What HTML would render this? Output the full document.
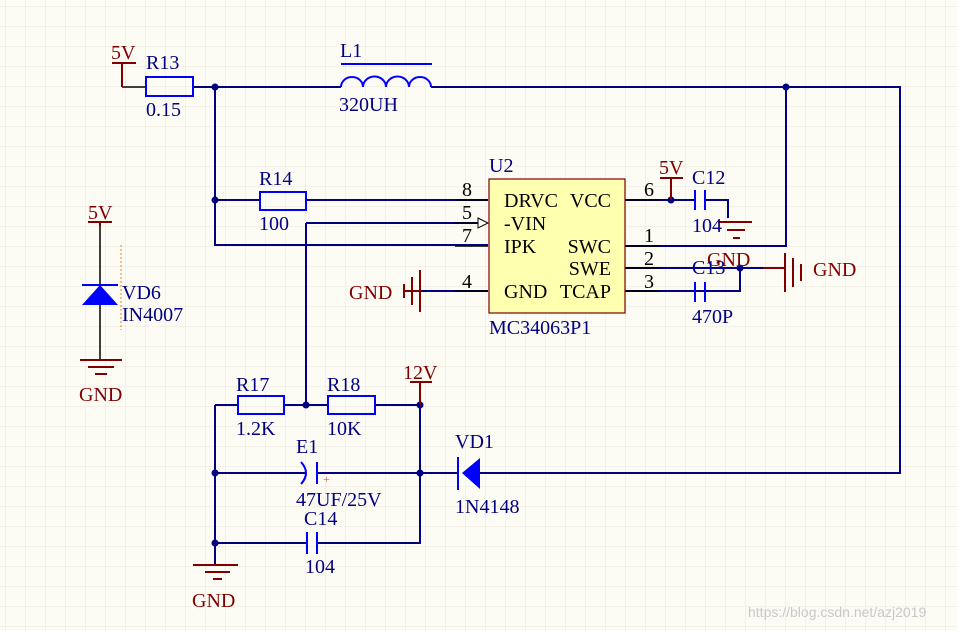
<!DOCTYPE html>
<html><head><meta charset="utf-8"><style>
html,body{margin:0;padding:0;background:#fcfbf4}
svg{display:block}
text{font-family:"Liberation Serif",serif;font-size:20px}
.n{fill:#000080}.r{fill:#800000}.k{fill:#000}
</style></head><body>
<svg width="957" height="631" viewBox="0 0 957 631" xmlns="http://www.w3.org/2000/svg">
<defs><pattern id="g" width="20" height="20" patternUnits="userSpaceOnUse" x="6" y="7"><path d="M20 0V20M0 20H20" stroke="#ebe8dc" stroke-width="1" fill="none"/></pattern></defs>
<rect width="957" height="631" fill="#fcfbf4"/>
<rect width="957" height="631" fill="url(#g)"/>
<g fill="none" stroke="#000080" stroke-width="2">
<path d="M193 87H341M431 87H900V473H490"/>
<path d="M215 87V245H488M215 200H260M306 200H488M306 223H478M306 223V405"/>
<path d="M625 246H786V87"/>
<path d="M625 268H763M740 268V291H625M705 291H740"/>
<path d="M625 200H695M705 200H728V218"/>
<path d="M215 405H238M284 405H328M375 405H420V543H317M307 543H215V565M215 405V543"/>
<path d="M215 473H305M317 473H458M480 473H490"/>
<path d="M420 291H488"/>
</g>
<g stroke="#000" stroke-width="1.5">
<path d="M122 87H146M455 200H488M455 223H478M455 246H488M455 291H488M625 200H660M625 246H660M625 268H660M625 291H660"/>
<path d="M100 222V285M100 305V360"/>
</g>
<g fill="#000080"><circle cx="215" cy="87" r="3.5"/><circle cx="215" cy="200" r="3.5"/><circle cx="786" cy="87" r="3.5"/><circle cx="671" cy="200" r="3.5"/><circle cx="740" cy="268" r="3.5"/><circle cx="306" cy="405" r="3.5"/><circle cx="420" cy="405" r="3.5"/><circle cx="215" cy="473" r="3.5"/><circle cx="420" cy="473" r="3.5"/><circle cx="215" cy="543" r="3.5"/></g>
<path d="M478 218L488 223L478 228Z" fill="#fff" stroke="#000" stroke-width="1"/>
<g fill="none" stroke="#0000ff" stroke-width="2">
<rect x="146" y="77" width="47" height="19"/>
<rect x="260" y="192" width="46" height="18"/>
<rect x="238" y="396" width="46" height="18"/>
<rect x="328" y="396" width="47" height="18"/>
<path d="M341 64H432"/>
<path d="M341 87A11 10 0 0 1 363 87A11 10 0 0 1 386 87A11 10 0 0 1 409 87A11 10 0 0 1 431 87"/>
<path d="M695 190V210M705 190V210M695 282V302M705 282V302"/>
<path d="M307 532V554M317 532V554"/>
<path d="M317 462V484M301 462Q311 473 301 484"/>
<path d="M458 457V490M82 285H118"/>
</g>
<path d="M480 458V489L462 473Z" fill="#0000ff"/>
<path d="M100 285L118 305H82Z" fill="#0000ff"/>
<text x="323" y="483" style="fill:#f05050;font-size:12px">+</text>
<rect x="489" y="179" width="136" height="134" fill="#ffffb0" stroke="#800000" stroke-width="1.2"/>
<g class="k"><text x="504" y="207">DRVC</text><text x="611" y="207" text-anchor="end">VCC</text><text x="504" y="230">-VIN</text><text x="504" y="253">IPK</text><text x="611" y="253" text-anchor="end">SWC</text><text x="611" y="275" text-anchor="end">SWE</text><text x="504" y="298">GND</text><text x="611" y="298" text-anchor="end">TCAP</text>
<text x="462" y="196">8</text><text x="462" y="219">5</text><text x="462" y="242">7</text><text x="462" y="288">4</text>
<text x="644" y="196">6</text><text x="644" y="242">1</text><text x="644" y="265">2</text><text x="644" y="288">3</text></g>
<g fill="none" stroke="#800000" stroke-width="2">
<path d="M112 63H136M122 63V87"/>
<path d="M88 222H112M100 222V226"/>
<path d="M660 178H683M671 178V200"/>
<path d="M410 382H432M420 382V405"/>
<path d="M718 222H752M727 230H745M733 238H740"/>
<path d="M763 268H785M785 253V292M793 258V287M801 264V281"/>
<path d="M420 270V312M412 277V305M404 284V298M404 291H420"/>
<path d="M80 360H122M88 367H114M95 374H107"/>
<path d="M193 565H238M205 572H230M213 579H222"/>
</g>
<path d="M121 245V330" stroke="#f08020" stroke-width="1" stroke-dasharray="2 2"/>
<g class="r"><text x="111" y="59">5V</text><text x="88" y="219">5V</text><text x="659" y="174">5V</text><text x="403" y="379">12V</text>
<text x="707" y="266">GND</text><text x="813" y="276">GND</text><text x="349" y="299">GND</text><text x="79" y="401">GND</text><text x="192" y="607">GND</text></g>
<g class="n"><text x="146" y="69">R13</text><text x="146" y="116">0.15</text><text x="340" y="57">L1</text><text x="339" y="111">320UH</text>
<text x="259" y="185">R14</text><text x="259" y="230">100</text><text x="489" y="172">U2</text><text x="489" y="334">MC34063P1</text>
<text x="692" y="184">C12</text><text x="692" y="232">104</text><text x="692" y="274">C13</text><text x="692" y="323">470P</text>
<text x="122" y="299">VD6</text><text x="122" y="321">IN4007</text>
<text x="236" y="391">R17</text><text x="236" y="435">1.2K</text><text x="327" y="391">R18</text><text x="327" y="435">10K</text>
<text x="296" y="453">E1</text><text x="296" y="506">47UF/25V</text><text x="304" y="525">C14</text><text x="305" y="573">104</text>
<text x="455" y="448">VD1</text><text x="455" y="513">1N4148</text></g>
<text x="748" y="617" style="fill:#c8c8c8;font-family:'Liberation Sans',sans-serif;font-size:14px">https://blog.csdn.net/azj2019</text>
</svg>
</body></html>
